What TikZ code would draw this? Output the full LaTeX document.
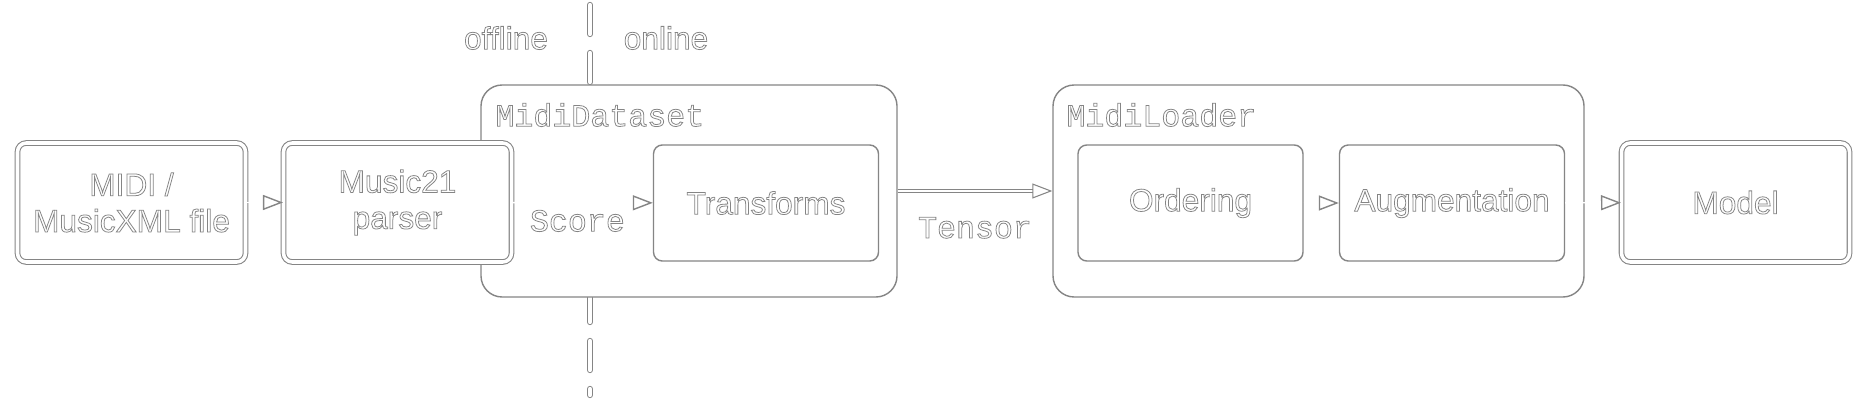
\documentclass[tikz,border=0pt]{standalone}
\usepackage{fontspec}
\setmainfont{Liberation Sans}
\setmonofont{Liberation Mono}
\usetikzlibrary{arrows.meta, positioning}

\colorlet{edge}{black!48}

\tikzset{
  outlined/.style={text=edge, execute at begin node={\special{pdf:literal direct 1 Tr 0.22 w}}, execute at end node={\special{pdf:literal direct 0 Tr}}},
  sans/.style={outlined, font=\fontsize{9}{10.3}\selectfont, align=center},
  mono/.style={outlined, font=\ttfamily\fontsize{9}{10.3}\selectfont},
  block/.style={sans, fill=white, draw=edge, line width=0.3pt, double=white, double distance=1pt, rounded corners=2.5pt, minimum width=2.28cm, minimum height=1.19cm, inner sep=0pt},
  stage/.style={sans, fill=white, draw=edge, line width=0.4pt, rounded corners=2.5pt, minimum width=2.25cm, minimum height=1.16cm, inner sep=0pt},
  group/.style={fill=white, draw=edge, line width=0.4pt, rounded corners=6pt, minimum height=2.12cm, inner sep=0pt},
  flow/.style={draw=white, line width=0.4pt, -{Triangle[open, length=0.2cm, width=0.15cm, color=edge]}},
  bigflow/.style={draw=edge, line width=0.3pt, double=white, double distance=0.8pt, -{Triangle[open, length=0.2cm, width=0.15cm, line width=0.3pt]}},
  divider/.style={draw=edge, line width=0.3pt, double=white, double distance=1.2pt, line cap=round, dash pattern=on 0.29cm off 0.19cm}
}

\begin{document}
\begin{tikzpicture}
\useasboundingbox (0,0) rectangle (18.54,4.01);

% offline / online split
\coordinate (divtop) at (5.90,3.96);
\coordinate (divbot) at (5.90,0.06);
\draw[divider] (divtop) -- (divbot);
\node[sans] (offline) at (5.06,3.63) {offline};
\node[sans] (online) at (6.66,3.63) {online};

% containers
\node[group, minimum width=4.16cm] (dataset) at (6.89,2.10) {};
\node[group, minimum width=5.31cm] (loader) at (13.185,2.10) {};
\node[mono, anchor=west] (dslabel) at (4.83,2.86) {MidiDataset};
\node[mono, anchor=west] (ldlabel) at (10.54,2.86) {MidiLoader};

% blocks
\node[block] (midi) at (1.315,1.985) {MIDI /\\MusicXML file};
\node[block] (parser) at (3.975,1.985) {Music21\\parser};
\node[stage] (transforms) at (7.66,1.98) {Transforms};
\node[stage] (ordering) at (11.905,1.98) {Ordering};
\node[stage] (augment) at (14.52,1.98) {Augmentation};
\node[block] (model) at (17.355,1.985) {Model};

% arrows
\draw[flow] (midi) -- (parser);
\draw[flow] (parser) -- node[mono, below, xshift=-0.05cm, yshift=0.05cm] (score) {Score} (transforms);
\draw[bigflow] (dataset) -- node[mono, below=0.14cm] (tensor) {Tensor} (loader);
\draw[flow] (ordering) -- (augment);
\draw[flow] (augment) -- (model);
\end{tikzpicture}
\end{document}
